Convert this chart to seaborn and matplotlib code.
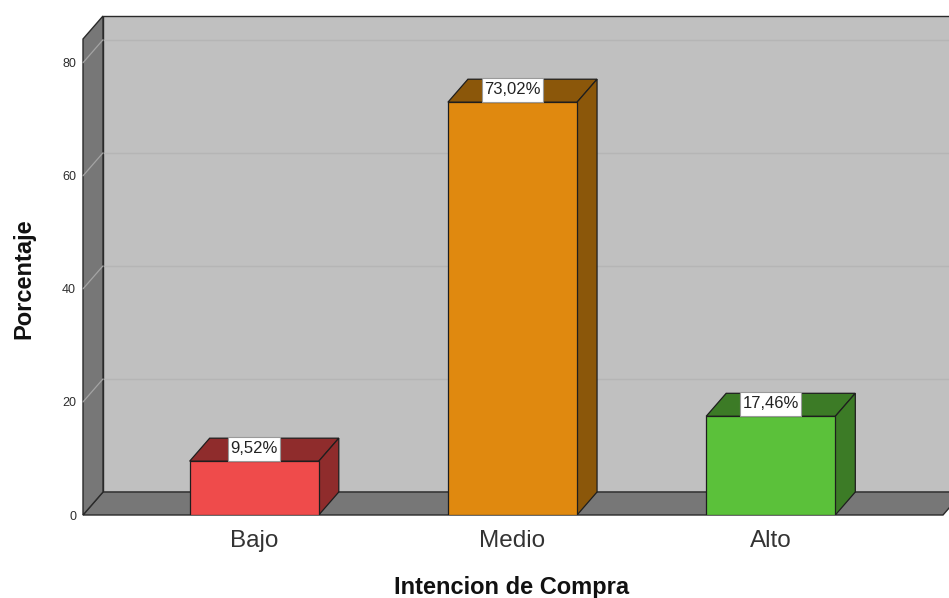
import matplotlib
matplotlib.use("Agg")
import matplotlib.pyplot as plt
from matplotlib.patches import Polygon, Rectangle
from matplotlib.transforms import IdentityTransform
import seaborn as sns
import pandas as pd

# Data
categories = ["Bajo", "Medio", "Alto"]
percentages = [9.52, 73.02, 17.46]
value_labels = ["9,52%", "73,02%", "17,46%"]
y_ticks = [0, 20, 40, 60, 80]

front_colors = ["#ef4b4b", "#e0890f", "#5bc13a"]
shade_colors = ["#8f2c2c", "#8b570a", "#3c7b26"]

sns.set_theme(style="white")
plt.rcParams["font.family"] = ["Liberation Sans", "DejaVu Sans"]

W, H = 949, 598
fig = plt.figure(figsize=(W / 100, H / 100), dpi=100)
ax = fig.add_axes([83 / W, 83 / H, 860 / W, 476 / H])

df = pd.DataFrame({"cat": categories, "pct": percentages})
sns.barplot(data=df, x="cat", y="pct", hue="cat", palette=front_colors,
            saturation=1, width=0.5, edgecolor="#1e1e1e", linewidth=0.9,
            legend=False, ax=ax, zorder=5)
bars = list(ax.patches)

XL, XR = -0.663, 2.667
YT = 84.2
ax.set_xlim(XL, XR)
ax.set_ylim(0, YT)

# depth of the pseudo-3D box, in pixels converted to data units
DX_PX, DY_PX = 20, 23
dx = DX_PX * (XR - XL) / 860
dy = DY_PX * YT / 476

wall_col = "#c0c0c0"
side_col = "#777777"
edge_col = "#2a2a2a"

# back wall
ax.add_patch(Rectangle((XL + dx, dy), (XR - XL) + 2, YT, facecolor=wall_col,
                       edgecolor=edge_col, linewidth=1.0, clip_on=False, zorder=0))
for yv in y_ticks[1:]:
    ax.plot([XL + dx, XR + dx + 1], [yv + dy, yv + dy], color="#b5b5b5",
            lw=1.0, clip_on=False, zorder=0.5)

# floor
ax.add_patch(Polygon([(XL, 0), (XR, 0), (XR + dx, dy), (XL + dx, dy)],
                     closed=True, facecolor=side_col, edgecolor=edge_col,
                     linewidth=1.0, clip_on=False, zorder=1))
# left wall
ax.add_patch(Polygon([(XL, 0), (XL + dx, dy), (XL + dx, YT + dy), (XL, YT)],
                     closed=True, facecolor=side_col, edgecolor=edge_col,
                     linewidth=1.0, clip_on=False, zorder=1.2))
for yv in y_ticks[1:]:
    ax.plot([XL, XL + dx], [yv, yv + dy], color="#a4a4a4", lw=0.9,
            clip_on=False, zorder=1.5)

# bar tops and sides, plus value texts
label_texts = []
for patch, shade, lab in zip(bars, shade_colors, value_labels):
    x0 = patch.get_x()
    w = patch.get_width()
    h = patch.get_height()
    top = Polygon([(x0, h), (x0 + w, h), (x0 + w + dx, h + dy), (x0 + dx, h + dy)],
                  closed=True, facecolor=shade, edgecolor="#1e1e1e",
                  linewidth=0.9, zorder=3)
    side = Polygon([(x0 + w, 0), (x0 + w + dx, dy), (x0 + w + dx, h + dy), (x0 + w, h)],
                   closed=True, facecolor=shade, edgecolor="#1e1e1e",
                   linewidth=0.9, zorder=3)
    ax.add_patch(top)
    ax.add_patch(side)
    t = ax.text(x0 + w / 2, h + dy * 0.55, lab, ha="center", va="center",
                fontsize=12, color="#222222", zorder=8)
    label_texts.append(t)

for s in ax.spines.values():
    s.set_visible(False)

ax.set_yticks(y_ticks)
ax.set_yticklabels([str(t) for t in y_ticks], fontsize=9, color="#2e2e2e")
ax.tick_params(axis="y", length=0, pad=5)
ax.tick_params(axis="x", length=0, pad=11, labelsize=17.5, labelcolor="#333333")
ax.set_xlabel("")
ax.set_ylabel("")

fig.text(512 / W, 1 - 594 / H, "Intencion de Compra", ha="center", va="baseline",
         fontsize=17, fontweight="bold", color="#111111")
fig.text(24 / W, 1 - 279 / H, "Porcentaje", ha="center", va="center",
         rotation=90, fontsize=17, fontweight="bold", color="#111111")

# white label boxes sized around the rendered value texts
fig.canvas.draw()
renderer = fig.canvas.get_renderer()
for t in label_texts:
    bb = t.get_window_extent(renderer)
    cy = (bb.y0 + bb.y1) / 2
    box = Rectangle((bb.x0 - 2.5, cy - 12), bb.width + 5, 24,
                    transform=IdentityTransform(), facecolor="white",
                    edgecolor="#9a9a9a", linewidth=0.8, zorder=7)
    ax.add_artist(box)

fig.savefig("out.png", dpi=100, facecolor="white")
